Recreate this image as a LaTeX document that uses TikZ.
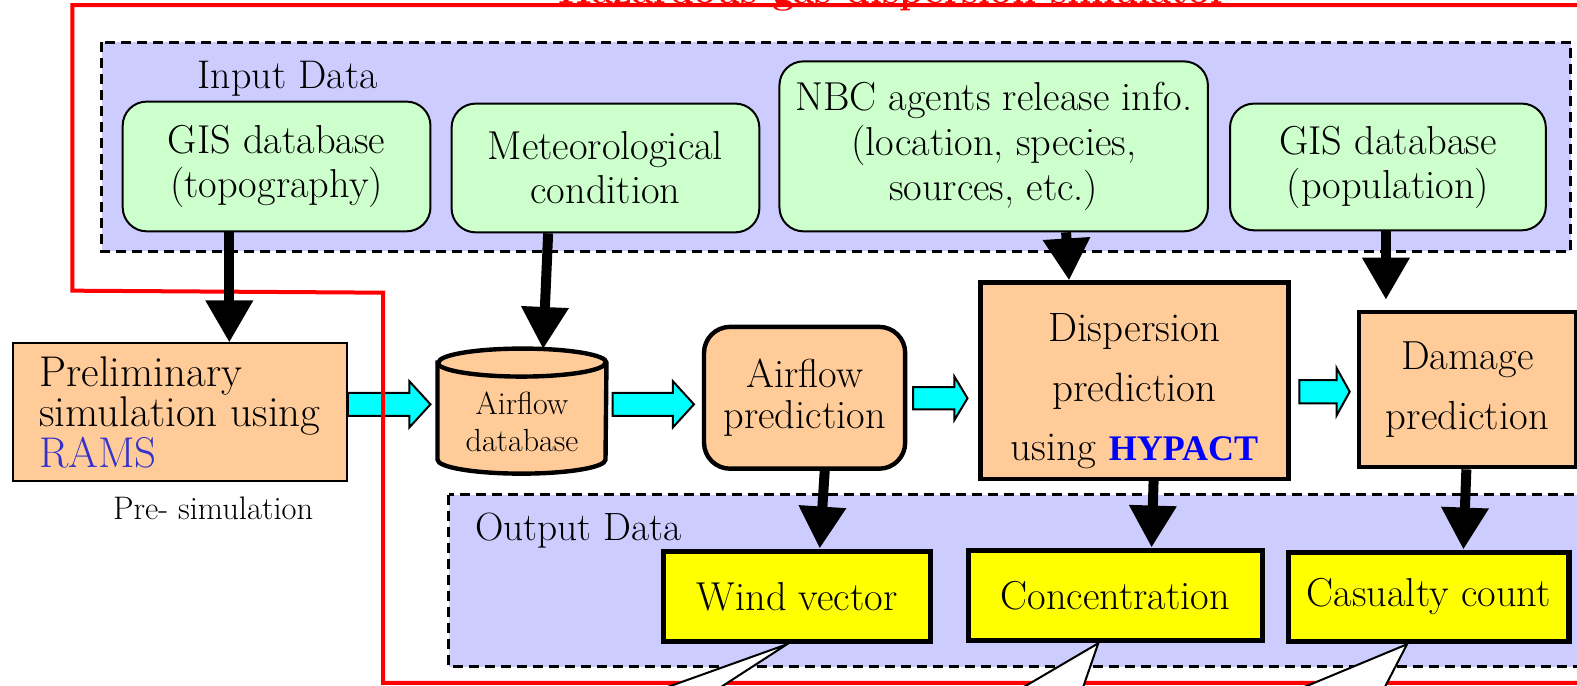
\documentclass[tikz,border=0pt]{standalone}
\usepackage{fontspec}
\newfontfamily\hyfont{Liberation Serif}
\usetikzlibrary{arrows.meta,calc}
\definecolor{lav}{RGB}{204,204,255}
\definecolor{mint}{RGB}{204,255,204}
\definecolor{peach}{RGB}{255,204,153}
\definecolor{aqua}{RGB}{0,255,255}
\definecolor{ramsblue}{RGB}{51,51,204}
\definecolor{hyblue}{RGB}{0,0,255}
\definecolor{lemon}{RGB}{255,255,0}
\newcommand\pxu{0.50287pt}
% cyan block arrow: x start, head start, tip, centre y, half body, half head
\newcommand\flowarrow[6]{%
  \draw[flow] (#1,#4-#5) -- (#2,#4-#5) -- (#2,#4-#6) -- (#3,#4)
    -- (#2,#4+#6) -- (#2,#4+#5) -- (#1,#4+#5) -- cycle;}
\begin{document}
\begin{tikzpicture}[x=0.50287pt,y=-0.50287pt,
  txt/.style={font=\fontsize{20.2}{22}\selectfont, align=center},
  inbox/.style={txt, draw, line width=1pt, fill=mint, rounded corners=12pt, inner sep=0pt},
  procbox/.style={txt, draw, line width=2.2pt, fill=peach, inner sep=0pt},
  outbox/.style={txt, draw, line width=2.6pt, fill=lemon, inner sep=0pt},
  region/.style={fill=lav, draw, line width=1.5pt, dash pattern=on 5pt off 3pt},
  feed/.style={line width=5pt, -{Triangle[width=22.5pt,length=21pt]}},
  flow/.style={draw, line width=1pt, fill=aqua},
  sim/.style={red, line width=2pt},
  calloutline/.style={line width=1pt},
]
\clip (0,0) rectangle (1568,682);
\fill[white] (0,0) rectangle (1568,682);

% title of the simulator frame
\node[red, font=\fontsize{19.2}{21}\selectfont\bfseries, anchor=base, inner sep=0pt] (title) at (888,3) {Hazardous gas dispersion simulator};

% data regions
\path[region] (101,42) rectangle (1562,250);
\path[region] (446,492) rectangle (1590,663);
\node[txt, font=\fontsize{20}{22}\selectfont] (indata) at (286,78) {Input Data};
\node[txt, font=\fontsize{19.7}{22}\selectfont] (outdata) at (575,528) {Output Data};

% input data
\node[inbox, minimum width=306*\pxu, minimum height=129*\pxu] (gistopo) at (275,165.5) {GIS database\\(topography)};
\node[inbox, minimum width=306*\pxu, minimum height=128*\pxu] (meteo) at (602,167) {Meteorological\\condition};
\node[inbox, minimum width=426*\pxu, minimum height=169*\pxu, font=\fontsize{20.2}{22.5}\selectfont] (nbc) at (988,145.5) {NBC agents release info.\\(location, species,\\sources, etc.)};
\node[inbox, minimum width=314*\pxu, minimum height=126*\pxu] (gispop) at (1380,166) {GIS database\\(population)};

% pre-simulation
\node[draw, line width=1pt, fill=peach, minimum width=332*\pxu, minimum height=137*\pxu, inner sep=0pt,
  font=\fontsize{21.5}{18.9}\selectfont, align=left] (prelim) at (179,410)
  {Preliminary\\simulation using\\\textcolor{ramsblue}{RAMS}};
\node[font=\fontsize{16.3}{18}\selectfont] (presim) at (212,505) {Pre- simulation};

% airflow database cylinder
\filldraw[fill=peach, line width=2.2pt] (435,360.5) -- (435,457)
  arc[start angle=180, end angle=360, x radius=42pt, y radius=7pt]
  -- (603,360.5)
  arc[start angle=0, end angle=180, x radius=42pt, y radius=7pt] -- cycle;
\draw[line width=2.2pt] (435,360.5) arc[start angle=180, end angle=360, x radius=42pt, y radius=7pt];
\node[font=\fontsize{16}{18.6}\selectfont, align=center] (db) at (519,419) {Airflow\\database};
\coordinate (dbtop) at (540,347);

% processing
\node[procbox, rounded corners=13pt, minimum width=200*\pxu, minimum height=141*\pxu, font=\fontsize{20.2}{20.6}\selectfont] (airflow) at (800,395.5) {Airflow\\prediction};
\node[procbox, minimum width=306*\pxu, minimum height=195*\pxu, font=\fontsize{20.5}{29.7}\selectfont] (disp) at (1128,378.5)
  {\raisebox{-9.5pt}[0pt][0pt]{\begin{tabular}{@{}c@{}}Dispersion\\prediction\\using {\hyfont\fontsize{18}{29.7}\selectfont\bfseries\color{hyblue}HYPACT}\end{tabular}}};
\node[procbox, minimum width=216*\pxu, minimum height=154*\pxu, font=\fontsize{20.3}{30}\selectfont] (damage) at (1459,387.5) {Damage\\prediction};

% output data
\node[outbox, minimum width=265*\pxu, minimum height=90*\pxu] (wind) at (792.5,593) {Wind vector};
\node[outbox, minimum width=292*\pxu, minimum height=90*\pxu] (conc) at (1109,592) {Concentration};
\node[outbox, minimum width=279*\pxu, minimum height=89*\pxu] (cas) at (1420.5,593.5) {Casualty count};

% data flow
\flowarrow{346}{407}{428}{402}{11.5}{23}
\flowarrow{609}{669}{690}{402}{11.5}{23}
\flowarrow{908}{949}{962}{396}{11}{21.5}
\flowarrow{1292}{1329}{1342}{389.5}{11.5}{23.5}

% simulator boundary
\draw[sim] (1600,5) -- (72,5) -- (72,289) -- (381,291) -- (381,679) -- (1600,679);

% callouts below the output boxes
\fill[white] ($(wind.south)+(-10,0)$) -- (664,683) -- (717,683) -- cycle;
\draw[calloutline] (664,683) -- ($(wind.south)+(-10,0)$) -- (717,683);
\fill[white] ($(conc.south)+(-17,0)$) -- (1018,683) -- (1077,683) -- cycle;
\draw[calloutline] (1018,683) -- ($(conc.south)+(-17,0)$) -- (1077,683);
\fill[white] ($(cas.south)+(-21.5,0)$) -- (1297,683) -- (1377,683) -- cycle;
\draw[calloutline] (1297,683) -- ($(cas.south)+(-21.5,0)$) -- (1377,683);

% feeds
\coordinate (popend) at (1378,298);
\draw[feed] ($(gistopo.south)+(-47,0)$) -- ($(prelim.north)+(49,0)$);
\draw[feed] ($(meteo.south)+(-57,0)$) -- (dbtop);
\draw[feed] ($(nbc.south)+(72,0)$) -- ($(disp.north)+(-65,0)$);
\draw[feed] ($(gispop.south)+(-2,0)$) -- (popend);
\draw[feed] ($(airflow.south)+(20,0)$) -- ($(wind.north)+(22.5,0)$);
\draw[feed] ($(disp.south)+(19,0)$) -- ($(conc.north)+(36,0)$);
\draw[feed] ($(damage.south)+(-1,0)$) -- ($(cas.north)+(34.5,0)$);
\end{tikzpicture}
\end{document}
